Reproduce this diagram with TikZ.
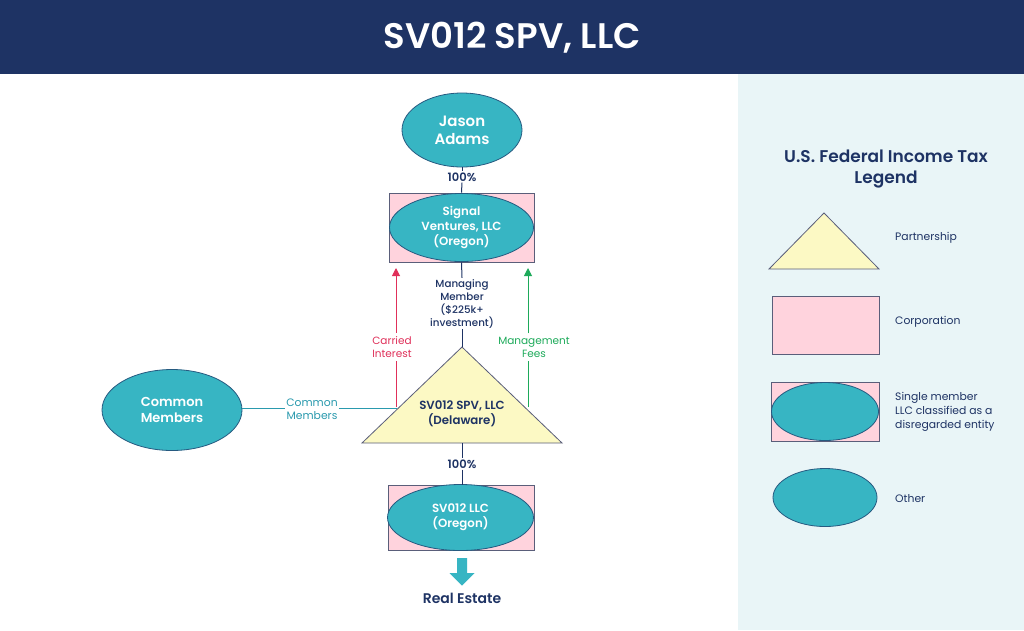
\documentclass[tikz,border=0pt]{standalone}
\usepackage{fontspec}
\setmainfont{Poppins}
\newfontfamily\semib{Poppins SemiBold}
\newfontfamily\medf{Poppins Medium}
\usetikzlibrary{shapes.geometric,arrows.meta}
\definecolor{navy}{HTML}{1E3364}
\definecolor{teal}{HTML}{37B5C3}
\definecolor{pinkc}{HTML}{FFD3DD}
\definecolor{yellowc}{HTML}{FCF9C4}
\definecolor{legbg}{HTML}{E9F5F7}
\definecolor{redc}{HTML}{E0305A}
\definecolor{greenc}{HTML}{1DAA5A}
\definecolor{tealtxt}{HTML}{2A9AAE}
\definecolor{edge}{HTML}{5A5E7A}
\tikzset{
  ent/.style={ellipse, draw=navy!70!teal, line width=0.8pt, fill=teal, text=white, inner sep=0pt, align=center, font=\semib},
  corp/.style={draw=edge, line width=0.8pt, fill=pinkc, inner sep=0pt},
  tri/.style={draw=edge, line width=0.8pt, fill=yellowc, line join=miter},
  conn/.style={draw=navy, line width=1pt},
  lbl/.style={text=navy, align=center, font=\fontsize{10}{13}\selectfont, inner sep=1pt},
  leg/.style={text=navy, align=left, anchor=west, font=\fontsize{10.8}{14}\selectfont, inner sep=0pt},
}
\begin{document}
\begin{tikzpicture}[x=1pt,y=-1pt]
\useasboundingbox (0,0) rectangle (1024,630);
\fill[white] (0,0) rectangle (1024,630);
\fill[legbg] (738,74) rectangle (1024,630);
\fill[navy] (0,0) rectangle (1024,74);
\node[text=white, font=\fontsize{35.5}{40}\selectfont\semib] (title) at (512,38) {SV012 SPV, LLC};

% Jason Adams
\node[ent, minimum width=120, minimum height=74, font=\fontsize{15}{18}\selectfont\semib] (ja) at (462,130) {Jason\\Adams};
\node[lbl, font=\fontsize{11.5}{13}\selectfont\semib] (p1) at (462,177) {100\%};

% Signal Ventures
\node[corp, minimum width=145, minimum height=69] (sigr) at (461.5,227.5) {};
\node[ent, minimum width=144, minimum height=68, font=\fontsize{11.8}{15}\selectfont\semib] (sig) at (461.5,227.5) {Signal\\Ventures, LLC\\(Oregon)};

\draw[conn] (ja.south) -- (p1.north);
\draw[conn] (p1.south) -- (sigr.south |- sigr.north);

% Managing member
\node[lbl, font=\fontsize{10.3}{13}\selectfont\medf] (mm) at (462,303.5) {Managing\\Member\\(\$225k+\\investment)};

% triangle
\coordinate (apex) at (462,347);
\coordinate (bl) at (362,443);
\coordinate (br) at (562,443);
\path[tri] (apex) -- (bl) -- (br) -- cycle;
\node[text=navy, align=center, font=\fontsize{11.8}{15}\selectfont\semib] (spv) at (462,414) {SV012 SPV, LLC\\(Delaware)};
\coordinate (base) at (462,443);

\draw[conn] (sigr.south) -- (mm.north);
\draw[conn] (mm.south) -- (apex);

% carried interest
\node[text=redc, align=center, font=\fontsize{10.5}{13}\selectfont] (ci) at (392,347) {Carried\\Interest};
\coordinate (ciL) at (396,407);
\coordinate (ciT) at (396,268);
\draw[redc, line width=1pt] (ciL) -- (ci.south -| ciL);
\draw[redc, line width=1pt, -{Triangle[length=8pt,width=8pt]}] (ci.north -| ciT) -- (ciT);

% management fees
\node[text=greenc, align=center, font=\fontsize{10.5}{13}\selectfont] (mf) at (534,347) {Management\\Fees};
\coordinate (mfL) at (528,407);
\coordinate (mfT) at (528,268);
\draw[greenc, line width=1pt] (mfL) -- (mf.south -| mfL);
\draw[greenc, line width=1pt, -{Triangle[length=8pt,width=8pt]}] (mf.north -| mfT) -- (mfT);

% common members
\node[ent, minimum width=140, minimum height=81, font=\fontsize{13}{16}\selectfont\semib] (cm) at (172,410) {Common\\Members};
\node[text=tealtxt, align=center, font=\fontsize{10.8}{13}\selectfont, inner sep=1pt] (cml) at (312,409) {Common\\Members};
\coordinate (cmT) at (397,408);
\draw[tealtxt, line width=1pt] (cm.east |- cmT) -- (cml.west |- cmT);
\draw[tealtxt, line width=1pt] (cml.east |- cmT) -- (cmT);

% 100% lower
\node[lbl, font=\fontsize{11.5}{13}\selectfont\semib] (p2) at (462,464) {100\%};
\node[corp, minimum width=146, minimum height=65] (sv12r) at (461,517.5) {};
\node[ent, minimum width=146, minimum height=66, font=\fontsize{11.8}{15}\selectfont\semib] (sv12) at (460.5,517.5) {SV012 LLC\\(Oregon)};
\draw[conn] (base) -- (p2.north);
\draw[conn] (p2.south) -- (p2.south |- sv12r.north);

% down arrow
\fill[teal] (457,558) -- (467,558) -- (467,573) -- (474.5,573) -- (462,585.5) -- (449.5,573) -- (457,573) -- cycle;
\node[text=navy, font=\fontsize{14}{16}\selectfont\semib] (re) at (462,598) {Real Estate};

% legend
\node[text=navy, align=center, font=\fontsize{17}{21}\selectfont\semib] (lt) at (886,169.5) {U.S. Federal Income Tax\\Legend};
\coordinate (la) at (824,213);
\coordinate (lbl1) at (769,269);
\coordinate (lbr) at (879,269);
\path[tri] (la) -- (lbl1) -- (lbr) -- cycle;
\node[leg] (l1) at (895,238) {Partnership};
\node[corp, minimum width=107, minimum height=58] (lr) at (825.5,325) {};
\node[leg] (l2) at (895,322) {Corporation};
\node[corp, minimum width=108, minimum height=59] (lsr) at (825,411.5) {};
\node[ent, minimum width=107, minimum height=58] (lse) at (825,411.5) {};
\node[leg] (l3) at (895,412) {Single member\\LLC classified as a\\disregarded entity};
\node[ent, minimum width=104, minimum height=58] (lo) at (825,497.5) {};
\node[leg] (l4) at (895,499) {Other};
\end{tikzpicture}
\end{document}
